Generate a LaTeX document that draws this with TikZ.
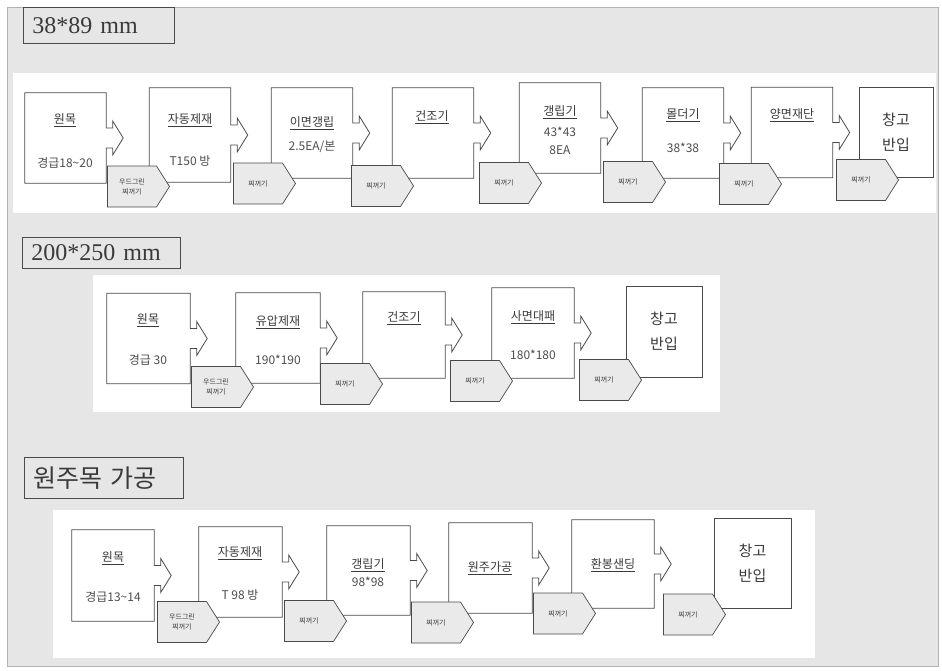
\documentclass[tikz,border=0pt]{standalone}
\usepackage{fontspec}
\setmainfont{Liberation Serif}
\newfontfamily\kr{Noto Sans CJK KR}
\usetikzlibrary{positioning, shapes.symbols, calc}

\definecolor{pagegray}{HTML}{E6E6E6}
\definecolor{linegray}{HTML}{4A4A4A}
\definecolor{inkgray}{HTML}{3A3A3A}
\definecolor{tabgray}{HTML}{EAEAEA}

% process box outline with a block arrow on its right side
\newcommand{\procarrow}[1]{%
  \draw[boxline] (#1.north west) -- (#1.north east) -- ($(#1.east)+(0,-10)$)
    -- ++(6.5,0) -- ++(0,-7) -- ($(#1.east)+(17,0)$) -- ($(#1.east)+(6.5,17)$)
    -- ++(0,-7) -- ($(#1.east)+(0,10)$) -- (#1.south east) -- (#1.south west) -- cycle;}

\begin{document}
\begin{tikzpicture}[x=1pt, y=-1pt,
    proc/.style={inner sep=0pt, minimum width=81pt, minimum height=90pt},
    boxline/.style={draw=linegray, line width=0.8pt, fill=white},
    store/.style={draw=linegray, line width=0.8pt, fill=white, minimum width=76pt, minimum height=90pt,
      align=center, text=inkgray, font=\kr\fontsize{15}{25}\selectfont},
    chute/.style={shape=signal, signal to=east, signal from=nowhere, signal pointer angle=115,
      draw=linegray, line width=0.7pt, fill=tabgray, minimum width=62pt, minimum height=41pt,
      inner sep=0pt, align=center, text=inkgray, font=\kr\fontsize{7}{10}\selectfont},
    head/.style={text=inkgray, font=\kr\fontsize{12}{14}\selectfont},
    spec/.style={text=inkgray!90, font=\kr\fontsize{12}{14}\selectfont},
    title/.style={draw=linegray, line width=0.8pt, anchor=north west, inner xsep=9pt, inner ysep=0pt,
      align=left, text=inkgray, font=\fontsize{24}{26}\selectfont}]
  \useasboundingbox (0,0) rectangle (942,670);
  \fill[white] (0,0) rectangle (942,670);
  \draw[draw=gray!60, fill=pagegray] (7,7) rectangle (938,666);
  % sheet panels
  \fill[white] (13,73) rectangle (936,213);
  \fill[white] (93,275) rectangle (720,412);
  \fill[white] (53,510) rectangle (815,658);

  % ---- 38*89 mm ----
  \node[title, minimum width=151pt, minimum height=36pt, text width=133pt] (ttl1) at (23,7) {38*89 mm};
  \node[proc] (log1) at (65.5,138) {};
  \node[proc, minimum height=94pt] (saw1) at (190,135) {};
  \node[proc] (edge1) at (312,133) {};
  \node[proc] (dry1) at (433,133) {};
  \node[proc] (gang1) at (560,128) {};
  \node[proc] (mold1) at (683,133) {};
  \node[proc] (trim1) at (792,132.5) {};
  \foreach \n in {log1,saw1,edge1,dry1,gang1,mold1,trim1} {\procarrow{\n}}
  \node[store, minimum width=74pt] (store1) at (896,132) {창고\\반입};
  \node[head] (log1h) at (65,120) {\underline{원목}};
  \node[spec] (log1s) at (65,163) {경급18\textasciitilde20};
  \node[head] (saw1h) at (190,120) {\underline{자동제재}};
  \node[spec] (saw1s) at (190,161) {T150 방};
  \node[head] (edge1h) at (312,123) {\underline{이면갱립}};
  \node[spec] (edge1s) at (312,147) {2.5EA/본};
  \node[head] (dry1h) at (432,117) {\underline{건조기}};
  \node[head] (gang1h) at (560,112) {\underline{갱립기}};
  \node[spec] (gang1s) at (560,132) {43*43};
  \node[spec] (gang1t) at (560,150) {8EA};
  \node[head] (mold1h) at (683,115) {\underline{몰더기}};
  \node[spec] (mold1s) at (683,148) {38*38};
  \node[head] (trim1h) at (792,115) {\underline{양면재단}};
  \node[chute] (w11) at (132,186.5) {우드그린\\찌꺼기};
  \node[chute] (w12) at (258,183.5) {찌꺼기};
  \node[chute] (w13) at (376,186) {찌꺼기};
  \node[chute] (w14) at (504,183) {찌꺼기};
  \node[chute] (w15) at (628,182) {찌꺼기};
  \node[chute] (w16) at (744,184) {찌꺼기};
  \node[chute] (w17) at (861,180) {찌꺼기};

  % ---- 200*250 mm ----
  \node[title, minimum width=158pt, minimum height=31pt, text width=140pt] (ttl2) at (22,237) {200*250 mm};
  \node[proc, minimum width=83pt] (log2) at (148.5,338.5) {};
  \node[proc, minimum width=84pt] (press2) at (278,338) {};
  \node[proc, minimum width=82pt, minimum height=86pt] (dry2) at (404,335) {};
  \node[proc, minimum width=82pt] (plane2) at (533,333) {};
  \foreach \n in {log2,press2,dry2,plane2} {\procarrow{\n}}
  \node[store, minimum height=91pt] (store2) at (664,331.5) {창고\\반입};
  \node[head] (log2h) at (148,320) {\underline{원목}};
  \node[spec] (log2s) at (148,360) {경급 30};
  \node[head] (press2h) at (278,322) {\underline{유압제재}};
  \node[spec] (press2s) at (278,360) {190*190};
  \node[head] (dry2h) at (404,318) {\underline{건조기}};
  \node[head] (plane2h) at (533,317) {\underline{사면대패}};
  \node[spec] (plane2s) at (533,355) {180*180};
  \node[chute] (w21) at (216,387) {우드그린\\찌꺼기};
  \node[chute] (w22) at (345,384) {찌꺼기};
  \node[chute] (w23) at (475,381) {찌꺼기};
  \node[chute] (w24) at (604,380) {찌꺼기};

  % ---- 원주목 가공 ----
  \node[title, minimum width=159pt, minimum height=41pt, text width=141pt, font=\kr\fontsize{25}{27}\selectfont] (ttl3) at (24,457) {원주목 가공};
  \node[proc, minimum width=82pt, minimum height=91pt] (log3) at (113,575.5) {};
  \node[proc, minimum width=83pt] (saw3) at (240.5,572) {};
  \node[proc, minimum width=83pt, minimum height=89pt] (gang3) at (368.5,570.5) {};
  \node[proc, minimum width=83pt] (round3) at (490.5,568) {};
  \node[proc, minimum width=82pt, minimum height=88pt] (sand3) at (613,564) {};
  \foreach \n in {log3,saw3,gang3,round3,sand3} {\procarrow{\n}}
  \node[store, minimum width=77pt] (store3) at (752.5,563) {창고\\반입};
  \node[head] (log3h) at (113,558) {\underline{원목}};
  \node[spec] (log3s) at (113,597) {경급13\textasciitilde14};
  \node[head] (saw3h) at (240,553) {\underline{자동제재}};
  \node[spec] (saw3s) at (240,595) {T 98 방};
  \node[head] (gang3h) at (368,565) {\underline{갱립기}};
  \node[spec] (gang3s) at (368,582) {98*98};
  \node[head] (round3h) at (490,568) {\underline{원주가공}};
  \node[head] (sand3h) at (613,565) {\underline{환봉샌딩}};
  \node[chute] (w31) at (182,622) {우드그린\\찌꺼기};
  \node[chute] (w32) at (309,621) {찌꺼기};
  \node[chute] (w33) at (436,622.5) {찌꺼기};
  \node[chute] (w34) at (558,613.5) {찌꺼기};
  \node[chute] (w35) at (688,614.5) {찌꺼기};
\end{tikzpicture}
\end{document}
